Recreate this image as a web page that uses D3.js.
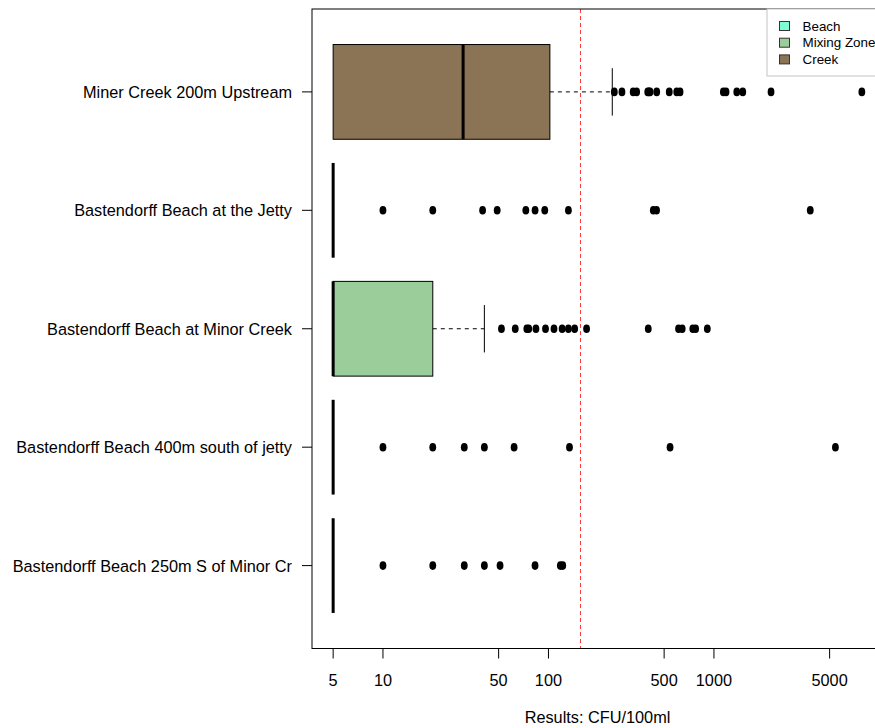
<!DOCTYPE html>
<html>
<head>
<meta charset="utf-8">
<script src="https://cdn.jsdelivr.net/npm/d3@7"></script>
<style>
  body { margin: 0; background: #fff; }
  svg { display: block; font-family: "Liberation Sans", Arial, sans-serif; }
</style>
</head>
<body>
<div id="chart"></div>
<script>
// sites, top to bottom
var sites = ["Miner Creek 200m Upstream", "Bastendorff Beach at the Jetty", "Bastendorff Beach at Minor Creek",
             "Bastendorff Beach 400m south of jetty", "Bastendorff Beach 250m S of Minor Cr"]
var siteType = ["Creek", "Beach", "Mixing Zone", "Beach", "Beach"]

// box stats
var lowWhisker  = [5, 5, 5, 5, 5]
var q1          = [5, 5, 5, 5, 5]
var median      = [30.5, 5, 5, 5, 5]
var q3          = [102, 5, 20, 5, 5]
var highWhisker = [243, 5, 41, 5, 5]

var outliersCreek  = [250, 278, 325, 341, 398, 405, 411, 451, 537, 596, 624, 1140, 1183, 1374, 1493, 2213, 7830]
var outliersJetty  = [10, 20, 40, 49, 73, 83, 95, 132, 430, 450, 3820]
var outliersMinor  = [52, 63, 74, 76, 84, 96, 108, 121, 132, 144, 170, 401, 611, 643, 745, 775, 912]
var outlies400m    = [10, 20, 31, 41, 62, 134, 543, 5420]
var outliers250m   = [10, 20, 31, 41, 51, 83, 118, 122]
var outliers = [outliersCreek, outliersJetty, outliersMinor, outlies400m, outliers250m]

var threshold = 158
var xTicks = [5, 10, 50, 100, 500, 1000, 5000]

var legendLabels = ["Beach", "Mixing Zone", "Creek"]
var legendColors = ["#7FFFD4", "#9BCD9B", "#8B7355"]
var color = d3.scaleOrdinal().domain(legendLabels).range(legendColors)

var width = 875, height = 728
var plot = {left: 312, right: 883, top: 9, bottom: 648.5}

var allVals = d3.merge(outliers.concat([lowWhisker, highWhisker]))
var lo = Math.log10(d3.min(allVals)), hi = Math.log10(d3.max(allVals))
var pad = 0.04 * (hi - lo)

var x = d3.scaleLog()
    .domain([Math.pow(10, lo - pad), Math.pow(10, hi + pad)])
    .range([plot.left, plot.right])

// group 1 at bottom, like R
var y = d3.scaleLinear()
    .domain([0.3, sites.length + 0.7])
    .range([plot.bottom, plot.top])
var pos = (d, i) => y(sites.length - i)
var half = (y(0) - y(0.4))

var svg = d3.select("#chart").append("svg")
    .attr("width", width)
    .attr("height", height)

var boxes = svg.selectAll("g.box")
  .data(sites)
  .join("g")
    .attr("class", "box")
    .attr("transform", (d, i) => "translate(0," + pos(d, i) + ")")

// whiskers
boxes.append("line")
    .attr("x1", (d, i) => x(q3[i])).attr("x2", (d, i) => x(highWhisker[i]))
    .attr("y1", 0).attr("y2", 0)
    .attr("stroke", "#000").attr("stroke-dasharray", "4,4")
    .style("display", (d, i) => highWhisker[i] > q3[i] ? null : "none")
boxes.append("line")
    .attr("x1", (d, i) => x(highWhisker[i])).attr("x2", (d, i) => x(highWhisker[i]))
    .attr("y1", -half / 2).attr("y2", half / 2)
    .attr("stroke", "#000")
    .style("display", (d, i) => highWhisker[i] > q3[i] ? null : "none")

boxes.append("rect")
    .attr("x", (d, i) => x(q1[i]))
    .attr("width", (d, i) => x(q3[i]) - x(q1[i]))
    .attr("y", -half)
    .attr("height", 2 * half)
    .attr("fill", (d, i) => color(siteType[i]))
    .attr("stroke", "#000")
    .style("display", (d, i) => q3[i] > q1[i] ? null : "none")

boxes.append("line")
    .attr("x1", (d, i) => x(median[i])).attr("x2", (d, i) => x(median[i]))
    .attr("y1", -half).attr("y2", half)
    .attr("stroke", "#000").attr("stroke-width", 3)

boxes.selectAll("ellipse")
  .data((d, i) => outliers[i])
  .join("ellipse")
    .attr("cx", d => x(d))
    .attr("cy", 0)
    .attr("rx", 3.4).attr("ry", 4.3)
    .attr("fill", "#000")

// threshold line
var tx = Math.round(x(threshold)) - 0.5
svg.append("line")
    .attr("x1", tx).attr("x2", tx)
    .attr("y1", plot.top).attr("y2", plot.bottom)
    .attr("stroke", "#ff3b3b").attr("stroke-dasharray", "4,3")
    .attr("shape-rendering", "crispEdges")

// frame
svg.append("rect")
    .attr("x", plot.left).attr("y", plot.top)
    .attr("width", plot.right - plot.left).attr("height", plot.bottom - plot.top)
    .attr("fill", "none").attr("stroke", "#000")

// y axis
var yAxis = svg.append("g")
sites.forEach(function(s, i) {
  yAxis.append("line")
      .attr("x1", plot.left - 10).attr("x2", plot.left)
      .attr("y1", pos(s, i)).attr("y2", pos(s, i))
      .attr("stroke", "#000")
  yAxis.append("text")
      .attr("x", 292).attr("y", pos(s, i) + 6)
      .attr("text-anchor", "end")
      .attr("font-size", 16.3)
      .text(s)
})

// x axis
var xAxis = svg.append("g")
xTicks.forEach(function(t) {
  xAxis.append("line")
      .attr("x1", x(t)).attr("x2", x(t))
      .attr("y1", plot.bottom).attr("y2", plot.bottom + 10)
      .attr("stroke", "#000")
  xAxis.append("text")
      .attr("x", x(t)).attr("y", 686)
      .attr("text-anchor", "middle")
      .attr("font-size", 16.3)
      .text(t)
})
svg.append("text")
    .attr("x", (plot.left + plot.right) / 2).attr("y", 723)
    .attr("text-anchor", "middle")
    .attr("font-size", 16.3)
    .text("Results: CFU/100ml")

// legend
var legend = svg.append("g").attr("transform", "translate(767,9)")
legend.append("rect")
    .attr("width", plot.right - 767).attr("height", 67)
    .attr("fill", "#fff").attr("stroke", "#c4c4c4")
var item = legend.selectAll("g")
  .data(legendLabels)
  .join("g")
    .attr("transform", (d, i) => "translate(0," + (17 + i * 16.7) + ")")
item.append("rect")
    .attr("x", 12.5).attr("y", -4.5).attr("width", 10).attr("height", 9)
    .attr("fill", d => color(d)).attr("stroke", "#333")
item.append("text")
    .attr("x", 35.5).attr("y", 4.7)
    .attr("font-size", 13.4)
    .text(d => d)
</script>
</body>
</html>
